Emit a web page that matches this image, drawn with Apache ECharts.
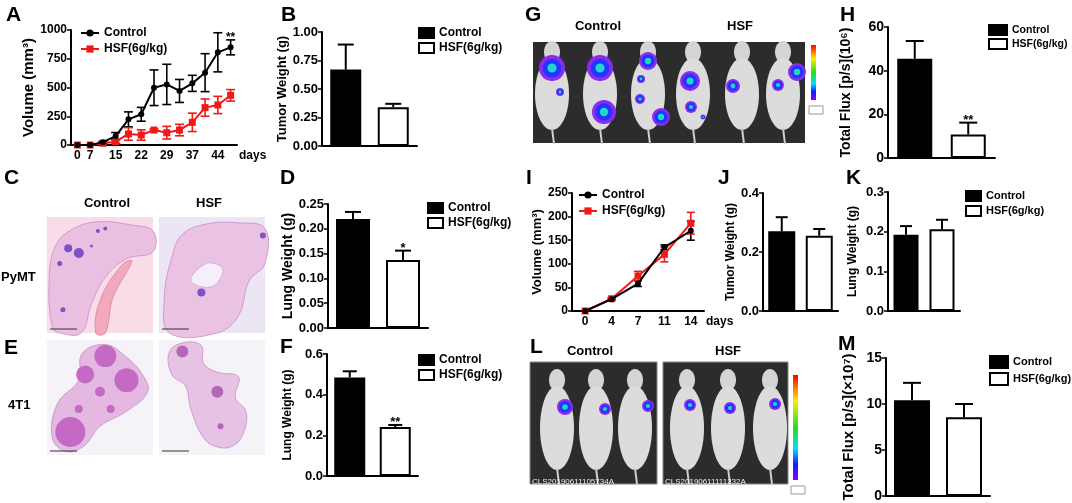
<!DOCTYPE html>
<html lang="en">
<head>
    <meta charset="UTF-8">
    <title>HSF tumor figure</title>
    <script src="https://cdn.jsdelivr.net/npm/echarts@6/dist/echarts.min.js"></script>
    <style>
        html, body { margin: 0; padding: 0; background: #fff; }
        #container { width: 1072px; height: 503px; }
    </style>
</head>
<body>
<div id="container"></div>
<script type="text/javascript">

    // ---- data ----
    var groups = ['Control', 'HSF(6g/kg)'];

    // A: PyMT tumour volume
    var daysA = ['0', '7', '11', '15', '18', '22', '25', '29', '33', '37', '40', '44', '47'];
    var shownDaysA = ['0', '7', '15', '22', '29', '37', '44'];
    var ctrlA = [0, 0, 25, 78, 223, 267, 498, 527, 470, 536, 629, 806, 849];
    var ctrlErrA = [0, 0, 8, 30, 65, 60, 155, 175, 100, 70, 165, 170, 65];
    var hsfA = [0, 0, 15, 29, 96, 87, 130, 107, 130, 197, 325, 348, 432];
    var hsfErrA = [0, 0, 5, 15, 55, 45, 10, 55, 50, 80, 75, 75, 50];
    var sigA = ['', '', '', '', '', '', '', '', '', '', '', '', '**'];

    // I: 4T1 tumour volume
    var daysI = ['0', '4', '7', '11', '14'];
    var ctrlI = [0, 25, 58, 135, 170];
    var ctrlErrI = [0, 2, 6, 5, 20];
    var hsfI = [0, 26, 74, 120, 186];
    var hsfErrI = [0, 2, 10, 16, 23];

    // bar panels: [Control, HSF]
    var tumorB = [0.67, 0.34], tumorErrB = [0.22, 0.03];
    var lungD = [0.220, 0.137], lungErrD = [0.014, 0.019], sigD = ['', '*'];
    var lungF = [0.485, 0.241], lungErrF = [0.03, 0.01], sigF = ['', '**'];
    var fluxH = [45.5, 10.8], fluxErrH = [8.1, 5.4], sigH = ['', '**'];
    var tumorJ = [0.27, 0.255], tumorErrJ = [0.048, 0.023];
    var lungK = [0.192, 0.206], lungErrK = [0.022, 0.024];
    var fluxM = [10.4, 8.55], fluxErrM = [1.9, 1.45];

    var FONT = '"Liberation Sans", Arial, sans-serif';
    var RED = '#f21818';

    var myChart = echarts.init(document.getElementById('container'));
    var option = {
        animation: false,
        backgroundColor: '#fff',
        grid: [], xAxis: [], yAxis: [], series: [], legend: [], graphic: []
    };

    function boldText(size) {
        return {color: '#000', fontFamily: FONT, fontWeight: 'bold', fontSize: size};
    }

    function errorRenderer(color, capW, lw, both, sig, sigSize) {
        return function (params, api) {
            var x = api.value(0), v = api.value(1), e = api.value(2);
            var top = api.coord([x, v + e]);
            var bot = api.coord([x, both ? v - e : v]);
            var kids = [];
            var st = {stroke: color, lineWidth: lw};
            if (e > 0) {
                kids.push({type: 'line', shape: {x1: top[0], y1: top[1], x2: bot[0], y2: bot[1]}, style: st});
                kids.push({type: 'line', shape: {x1: top[0] - capW / 2, y1: top[1], x2: top[0] + capW / 2, y2: top[1]}, style: st});
                if (both) {
                    kids.push({type: 'line', shape: {x1: bot[0] - capW / 2, y1: bot[1], x2: bot[0] + capW / 2, y2: bot[1]}, style: st});
                }
            }
            var s = sig && sig[params.dataIndex];
            if (s) {
                kids.push({type: 'text', style: {text: s, x: top[0], y: top[1] + 4, align: 'center', verticalAlign: 'bottom',
                    fill: '#000', font: 'bold ' + (sigSize || 12) + 'px ' + FONT}});
            }
            return {type: 'group', children: kids};
        };
    }

    function addAxes(p, xData, lineChart) {
        var i = option.grid.length;
        option.grid.push({left: p.left, top: p.top, width: p.width, height: p.height});
        var x = {
            type: 'category', gridIndex: i, data: xData, boundaryGap: true,
            axisLine: {lineStyle: {color: '#000', width: 2}},
            axisTick: {alignWithLabel: true, length: 4, lineStyle: {color: '#000', width: 1.5}},
            axisLabel: {show: false},
            splitLine: {show: false}
        };
        if (lineChart) {
            x.axisLabel = Object.assign(boldText(p.xLabelSize || 12), {show: true, margin: 5, interval: p.xInterval || 0});
            x.axisTick.interval = p.xInterval || 0;
            x.name = 'days';
            x.nameLocation = 'end';
            x.nameGap = p.nameGapX || 2;
            x.nameTextStyle = Object.assign(boldText(p.xLabelSize || 12), {verticalAlign: 'top', padding: [5, 0, 0, 0]});
        }
        option.xAxis.push(x);
        option.yAxis.push({
            type: 'value', gridIndex: i, min: 0, max: p.max, interval: p.interval,
            name: p.yName, nameLocation: 'middle', nameGap: p.nameGap, nameRotate: 90,
            nameTextStyle: boldText(p.nameSize || 13),
            axisLine: {show: true, lineStyle: {color: '#000', width: 2}},
            axisTick: {show: true, length: 4, lineStyle: {color: '#000', width: 1.5}},
            axisLabel: Object.assign(boldText(p.labelSize || 13), {margin: 4, formatter: function (v) { return v.toFixed(p.digits || 0); }}),
            splitLine: {show: false}
        });
        return i;
    }

    function addLegend(key, p, opts) {
        option.legend.push(Object.assign({
            left: p.legLeft, top: p.legTop, orient: 'vertical', padding: 0,
            data: [key + ':' + groups[0], key + ':' + groups[1]],
            formatter: function (n) { return n.split(':')[1]; },
            textStyle: boldText(p.legSize || 12), selectedMode: false,
            show: p.legend !== false
        }, opts));
    }

    function addBarPanel(key, p, values, errs, sig) {
        var i = addAxes(p, groups, false);
        option.series.push({
            type: 'bar', name: key + ':' + groups[0], xAxisIndex: i, yAxisIndex: i,
            data: [values[0], '-'], barWidth: p.barWidth, barGap: '-100%',
            itemStyle: {color: '#000', borderColor: '#000', borderWidth: 2}
        });
        option.series.push({
            type: 'bar', name: key + ':' + groups[1], xAxisIndex: i, yAxisIndex: i,
            data: ['-', values[1]], barWidth: p.barWidth, barGap: '-100%',
            itemStyle: {color: '#fff', borderColor: '#000', borderWidth: 2}
        });
        option.series.push({
            type: 'custom', xAxisIndex: i, yAxisIndex: i, z: 3,
            data: values.map(function (v, k) { return [k, v, errs[k]]; }),
            renderItem: errorRenderer('#000', p.cap, 2, false, sig, 13)
        });
        addLegend(key, p, {icon: 'rect', itemWidth: p.legW || 15, itemHeight: p.legH || 10, itemGap: p.legGap || 3});
    }

    function addLinePanel(key, p, days, c, ce, h, he, sig) {
        var i = addAxes(p, days, true);
        option.series.push({
            type: 'custom', xAxisIndex: i, yAxisIndex: i, z: 2,
            data: c.map(function (v, k) { return [k, v, ce[k]]; }),
            renderItem: errorRenderer('#000', p.cap, 1.6, true, sig, 12)
        });
        option.series.push({
            type: 'custom', xAxisIndex: i, yAxisIndex: i, z: 2,
            data: h.map(function (v, k) { return [k, v, he[k]]; }),
            renderItem: errorRenderer(RED, p.cap, 1.6, true, null)
        });
        option.series.push({
            type: 'line', name: key + ':' + groups[0], xAxisIndex: i, yAxisIndex: i, z: 4,
            data: c, symbol: 'circle', symbolSize: 6,
            lineStyle: {color: '#000', width: 2}, itemStyle: {color: '#000'}
        });
        option.series.push({
            type: 'line', name: key + ':' + groups[1], xAxisIndex: i, yAxisIndex: i, z: 3,
            data: h, symbol: 'rect', symbolSize: 7,
            lineStyle: {color: RED, width: 2}, itemStyle: {color: RED}
        });
        addLegend(key, p, {itemWidth: 18, itemHeight: 9, itemGap: 4});
    }

    var showA = function (idx, val) { return shownDaysA.indexOf(val) >= 0; };

    addLinePanel('A', {left: 71, top: 30, width: 166, height: 115, max: 1000, interval: 250,
        yName: 'Volume (mm³)', nameGap: 34, nameSize: 15, labelSize: 12, cap: 9, xInterval: showA,
        legLeft: 80, legTop: 27}, daysA, ctrlA, ctrlErrA, hsfA, hsfErrA, sigA);
    addBarPanel('B', {left: 322, top: 32, width: 95, height: 114, max: 1, interval: 0.25, digits: 2,
        yName: 'Tumor Weight (g)', nameGap: 29, nameSize: 13, barWidth: 31, cap: 16,
        legLeft: 418, legTop: 27}, tumorB, tumorErrB, null);
    addBarPanel('D', {left: 328, top: 204, width: 100, height: 124, max: 0.25, interval: 0.05, digits: 2,
        yName: 'Lung Weight (g)', nameGap: 33, nameSize: 14, barWidth: 34, cap: 16,
        legLeft: 427, legTop: 202}, lungD, lungErrD, sigD);
    addBarPanel('F', {left: 327, top: 354, width: 91, height: 122, max: 0.6, interval: 0.2, digits: 1,
        yName: 'Lung Weight (g)', nameGap: 33, nameSize: 12, barWidth: 31, cap: 14,
        legLeft: 418, legTop: 354}, lungF, lungErrF, sigF);
    addBarPanel('H', {left: 888, top: 27, width: 107, height: 131, max: 60, interval: 20,
        yName: 'Total Flux [p/s](10⁶)', nameGap: 35, nameSize: 14, labelSize: 14, barWidth: 35, cap: 18,
        legLeft: 988, legTop: 24, legSize: 10.5, legW: 18, legH: 10, legGap: 2}, fluxH, fluxErrH, sigH);
    addLinePanel('I', {left: 572, top: 193, width: 132, height: 118, max: 250, interval: 50,
        yName: 'Volume (mm³)', nameGap: 20, nameSize: 13, labelSize: 12, cap: 8,
        legLeft: 578, legTop: 189}, daysI, ctrlI, ctrlErrI, hsfI, hsfErrI, null);
    addBarPanel('J', {left: 763, top: 193, width: 75, height: 118, max: 0.4, interval: 0.2, digits: 1,
        yName: 'Tumor Weight (g)', nameGap: 24, nameSize: 12, labelSize: 13, barWidth: 27, cap: 12,
        legend: false}, tumorJ, tumorErrJ, null);
    addBarPanel('K', {left: 888, top: 192, width: 72, height: 119, max: 0.3, interval: 0.1, digits: 1,
        yName: 'Lung Weight (g)', nameGap: 29, nameSize: 12, labelSize: 13, barWidth: 25, cap: 12,
        legLeft: 965, legTop: 190, legSize: 11}, lungK, lungErrK, null);
    addBarPanel('M', {left: 886, top: 358, width: 104, height: 139, max: 15, interval: 5,
        yName: 'Total Flux [p/s](×10⁷)', nameGap: 30, nameSize: 15, labelSize: 14, barWidth: 36, cap: 18,
        legLeft: 989, legTop: 355, legSize: 11, legW: 18, legH: 12, legGap: 3}, fluxM, fluxErrM, null);

    // ---- text labels and photo stand-ins ----
    var g = option.graphic;
    function label(text, x, y, size, align) {
        g.push({type: 'text', silent: true, x: x, y: y, style: {text: text,
            align: align || 'left', verticalAlign: 'middle', fill: '#000', font: 'bold ' + size + 'px ' + FONT}});
    }
    ['A', 6, 15, 'B', 281, 15, 'G', 525, 15, 'H', 840, 15, 'C', 4, 178, 'D', 280, 178, 'I', 526, 178,
     'J', 718, 178, 'K', 846, 178, 'E', 4, 348, 'F', 280, 347, 'L', 530, 347, 'M', 838, 344]
        .forEach(function (v, k, a) { if (k % 3 === 0) label(a[k], a[k + 1], a[k + 2], 21); });
    label('Control', 107, 203, 13, 'center');
    label('HSF', 209, 203, 13, 'center');
    label('PyMT', 1, 277, 13);
    label('4T1', 8, 405, 13);
    label('Control', 598, 26, 13, 'center');
    label('HSF', 740, 26, 13, 'center');
    label('Control', 590, 351, 13, 'center');
    label('HSF', 728, 351, 13, 'center');

    function rect(x, y, w, h, fill, stroke) {
        g.push({type: 'rect', silent: true, shape: {x: x, y: y, width: w, height: h},
            style: {fill: fill, stroke: stroke || null, lineWidth: 1}});
    }
    function poly(x, y, w, h, pts, fill, stroke) {
        g.push({type: 'polygon', silent: true, shape: {smooth: 0.4, points: pts.map(function (p) { return [x + p[0] * w, y + p[1] * h]; })},
            style: {fill: fill, stroke: stroke || null, lineWidth: 0.8}});
    }
    function dot(cx, cy, r, fill, op) {
        g.push({type: 'circle', silent: true, shape: {cx: cx, cy: cy, r: r}, style: {fill: fill, opacity: op == null ? 1 : op}});
    }
    function ell(cx, cy, rx, ry, fill) {
        g.push({type: 'ellipse', silent: true, shape: {cx: cx, cy: cy, rx: rx, ry: ry}, style: {fill: fill}});
    }
    function seg(x1, y1, x2, y2, color, w) {
        g.push({type: 'line', silent: true, shape: {x1: x1, y1: y1, x2: x2, y2: y2}, style: {stroke: color, lineWidth: w}});
    }
    function tissueDots(x, y, w, h, list, fill) {
        list.forEach(function (d) { dot(x + d[0] * w, y + d[1] * h, d[2], fill); });
    }

    // C: PyMT lung sections
    rect(47, 217, 106, 116, '#f8dde8');
    poly(47, 217, 106, 116, [[0.05, 0.95], [0.02, 0.55], [0.08, 0.25], [0.25, 0.1], [0.5, 0.04], [0.8, 0.07], [1, 0.12],
        [1, 0.3], [0.75, 0.36], [0.55, 0.52], [0.42, 0.75], [0.32, 1], [0.12, 1]], '#ebbfe2', '#c98cc9');
    poly(47, 217, 106, 116, [[0.5, 0.72], [0.7, 0.42], [0.8, 0.38], [0.62, 0.7], [0.55, 1], [0.46, 1]], '#f2a9bd', '#e07fa0');
    tissueDots(47, 217, 106, 116, [[0.2, 0.27, 4], [0.3, 0.31, 5], [0.12, 0.4, 2.5], [0.55, 0.1, 2], [0.48, 0.12, 2],
        [0.15, 0.8, 2.5], [0.42, 0.25, 1.5]], '#7b52c8');
    seg(50, 329, 77, 329, '#333', 1);
    rect(159, 217, 106, 116, '#ece5f3');
    poly(159, 217, 106, 116, [[0.1, 1], [0.05, 0.7], [0.12, 0.35], [0.22, 0.15], [0.45, 0.06], [0.75, 0.05], [1, 0.1],
        [1, 0.4], [0.85, 0.55], [0.75, 0.85], [0.55, 1]], '#eac2e4', '#c98cc9');
    poly(159, 217, 106, 116, [[0.3, 0.55], [0.45, 0.4], [0.6, 0.45], [0.5, 0.6]], '#f6eef8', '#d3a7d6');
    tissueDots(159, 217, 106, 116, [[0.4, 0.65, 4], [0.98, 0.16, 3]], '#7b52c8');
    seg(162, 329, 189, 329, '#333', 1);

    // E: 4T1 lung sections
    rect(47, 340, 106, 115, '#f5f3f7');
    poly(47, 340, 106, 115, [[0.05, 0.85], [0.1, 0.55], [0.3, 0.35], [0.33, 0.12], [0.55, 0.04], [0.75, 0.15], [0.9, 0.3],
        [0.95, 0.45], [0.75, 0.62], [0.5, 0.75], [0.35, 0.92], [0.18, 0.97]], '#e4b8e0', '#c78bc7');
    tissueDots(47, 340, 106, 115, [[0.22, 0.8, 15], [0.55, 0.14, 11], [0.75, 0.35, 12], [0.36, 0.3, 9], [0.5, 0.45, 5],
        [0.3, 0.6, 4], [0.6, 0.6, 4]], '#c46ac4');
    seg(50, 451, 77, 451, '#333', 1);
    rect(159, 340, 106, 115, '#f5f3f7');
    poly(159, 340, 106, 115, [[0.1, 0.1], [0.25, 0.02], [0.4, 0.05], [0.42, 0.2], [0.55, 0.28], [0.75, 0.32], [0.72, 0.5],
        [0.82, 0.62], [0.8, 0.8], [0.7, 0.92], [0.55, 0.93], [0.42, 0.85], [0.3, 0.6], [0.25, 0.4], [0.12, 0.3]], '#e6c3e4', '#c78bc7');
    tissueDots(159, 340, 106, 115, [[0.22, 0.1, 6], [0.55, 0.45, 6], [0.58, 0.75, 3]], '#b466b8');
    seg(162, 451, 189, 451, '#333', 1);

    function mouse(cx, top, bodyRy) {
        ell(cx, top + 10, 8, 11, '#d4d4d4');
        ell(cx, top + 16 + bodyRy, 17, bodyRy, '#dcdcdc');
        seg(cx, top + 14 + 2 * bodyRy, cx + 2, top + 30 + 2 * bodyRy, '#cfcfcf', 2);
    }
    function blob(cx, cy, r) {
        dot(cx, cy, r, '#8a2cf0');
        dot(cx, cy, r * 0.72, '#2633ff');
        dot(cx, cy, r * 0.35, '#20d6c8');
    }
    function colorBar(x, y, h) {
        g.push({type: 'rect', silent: true, shape: {x: x, y: y, width: 5, height: h}, style: {
            fill: new echarts.graphic.LinearGradient(0, 0, 0, 1, [
                {offset: 0, color: '#ff0000'}, {offset: 0.25, color: '#ffee00'}, {offset: 0.5, color: '#22dd22'},
                {offset: 0.7, color: '#00e0ff'}, {offset: 0.85, color: '#1020ff'}, {offset: 1, color: '#8a00ff'}])}});
        rect(x - 2, y + h + 6, 14, 8, '#fff', '#999');
    }

    // G: whole-body imaging PyMT
    rect(533, 42, 272, 101, '#2c2c2c');
    [552, 600, 648, 693, 742, 783].forEach(function (cx) { mouse(cx, 42, 36); });
    [[552, 68, 13], [560, 92, 4], [600, 68, 13], [604, 112, 12], [648, 61, 9], [641, 79, 4], [640, 99, 5], [661, 117, 9],
     [690, 81, 10], [691, 107, 6], [703, 117, 2.5], [733, 86, 7], [797, 72, 9], [778, 85, 6]]
        .forEach(function (b) { blob(b[0], b[1], b[2]); });
    colorBar(811, 45, 55);

    // L: whole-body imaging 4T1
    rect(530, 362, 127, 122, '#2c2c2c', '#888');
    rect(663, 362, 125, 122, '#2c2c2c', '#888');
    [557, 596, 635, 687, 728, 770].forEach(function (cx) { mouse(cx, 370, 42); });
    [[565, 407, 8], [605, 409, 6], [648, 406, 6], [690, 405, 6], [730, 408, 6], [775, 404, 6]]
        .forEach(function (b) { blob(b[0], b[1], b[2]); });
    g.push({type: 'text', silent: true, style: {text: 'CLS20190611105734A', x: 532, y: 478, fill: '#eee', font: '8px ' + FONT}});
    g.push({type: 'text', silent: true, style: {text: 'CLS20190611111232A', x: 665, y: 478, fill: '#eee', font: '8px ' + FONT}});
    colorBar(793, 375, 105);

    myChart.setOption(option);
</script>
</body>
</html>
